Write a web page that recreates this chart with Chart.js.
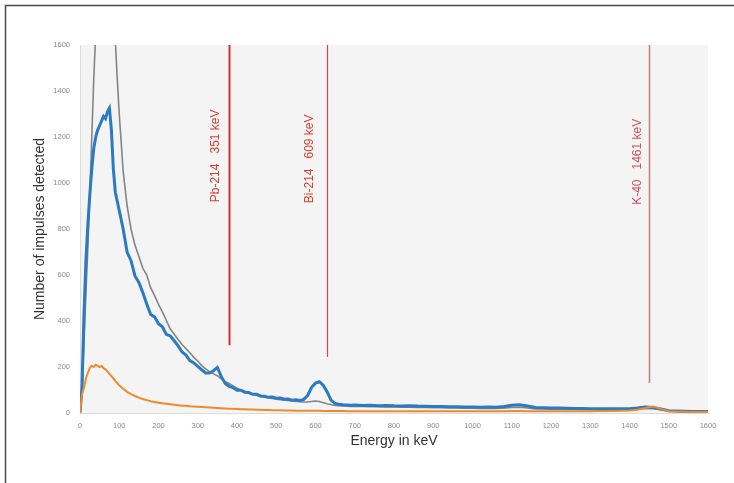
<!DOCTYPE html>
<html>
<head>
<meta charset="utf-8">
<script src="https://cdn.jsdelivr.net/npm/chart.js@4/dist/chart.umd.min.js"></script>
<style>
html,body{margin:0;padding:0;background:#fff;}
#c{display:block;}
</style>
</head>
<body>
<canvas id="c" width="734" height="483"></canvas>
<script>
// ---- data ----
const energy = [
  0,5,10,15,20,25,30,35,40,45,50,55,60,65,70,75,80,85,90,95,100,
  110,120,130,140,150,160,170,180,190,200,
  210,220,230,240,250,260,270,280,290,300,
  310,320,330,340,350,360,370,380,390,400,
  410,420,430,440,450,460,470,480,490,500,
  510,520,530,540,550,560,570,580,590,600,
  610,620,630,640,650,660,670,680,690,700,
  720,740,760,780,800,820,840,860,880,900,
  920,940,960,980,1000,1020,1040,1060,1080,1100,
  1120,1140,1160,1180,1200,1220,1240,1260,1280,1300,
  1320,1340,1360,1380,1400,1420,1440,1460,1480,1500,
  1520,1540,1560,1580,1600
];
const seriesBlue = [
  0,110,420,660,820,950,1060,1150,1200,1230,1250,1270,1290,1280,1310,1325,1230,1060,960,920,880,
  800,700,662,596,568,524,474,428,418,388,
  375,342,335,314,292,265,252,228,218,203,
  188,174,174,184,198,158,128,116,110,99,
  99,90,89,81,81,74,73,68,69,64,
  65,60,61,56,58,54,59,76,112,130,
  136,120,90,55,42,38,36,35,34,35,
  33,34,32,33,31,30,32,30,29,28,
  28,27,27,26,26,25,26,25,28,34,
  36,30,24,23,22,22,21,20,20,19,
  19,18,18,18,19,22,26,24,17,10,
  9,8,7,6,6
];
const seriesGray = [
  0,80,300,520,720,950,1200,1450,1650,1900,2100,2250,2300,2250,2100,1950,1800,1700,1620,1450,1300,
  1050,900,800,730,680,630,600,545,510,472,
  440,402,365,342,320,298,280,262,242,226,
  206,192,180,170,162,148,136,128,118,108,
  100,95,90,83,77,72,69,66,63,60,
  58,56,54,52,50,49,48,48,50,52,
  50,45,40,36,33,32,31,30,29,28,
  28,27,27,26,26,25,25,24,24,23,
  23,22,22,21,21,20,20,20,21,24,
  25,22,18,18,17,17,16,16,15,15,
  15,14,14,14,14,16,20,19,14,10,
  9,8,7,6,6
];
const seriesOrange = [
  0,80,110,150,175,195,205,200,210,205,200,205,195,190,180,170,160,150,140,130,120,
  105,92,82,74,67,61,56,51,48,45,
  42,40,38,36,34,32,31,29,28,27,
  26,25,24,23,22,21,20,19,18,17,
  16,16,15,15,14,14,13,13,12,12,
  12,11,11,11,10,10,10,10,10,10,
  10,9,9,9,9,9,9,8,8,8,
  8,8,8,8,8,8,8,8,8,8,
  8,8,8,8,8,8,8,8,8,9,
  9,8,8,8,8,8,8,8,8,8,
  9,9,9,10,11,14,22,28,18,8,
  6,5,4,4,4
];
const xTicks = [0,100,200,300,400,500,600,700,800,900,1000,1100,1200,1300,1400,1500,1600];
const yTicks = [0,200,400,600,800,1000,1200,1400,1600];
const markerEnergy = [380, 629, 1450];
const markerLineEnd = [295, 243, 130];
const markerLabels = ['Pb-214   351 keV', 'Bi-214   609 keV', 'K-40   1461 keV'];

const pts = arr => energy.map((e, i) => ({x: e, y: arr[i]}));

const decor = {
  id: 'decor',
  beforeDraw(chart) {
    const {ctx, chartArea: a} = chart;
    ctx.save();
    ctx.fillStyle = '#ffffff';
    ctx.fillRect(0, 0, chart.width, chart.height);
    ctx.fillStyle = '#f4f4f4';
    ctx.fillRect(a.left, a.top, a.right - a.left, a.bottom - a.top);
    ctx.strokeStyle = '#4a4a4a';
    ctx.lineWidth = 1.5;
    ctx.beginPath();
    ctx.moveTo(5.5, chart.height);
    ctx.lineTo(5.5, 5.5);
    ctx.lineTo(chart.width, 5.5);
    ctx.stroke();
    ctx.restore();
  }
};

const markers = {
  id: 'markers',
  afterDatasetsDraw(chart, args, opts) {
    const {ctx, chartArea: a, scales: {x, y}} = chart;
    ctx.save();
    markerEnergy.forEach((e, i) => {
      const px = Math.round(x.getPixelForValue(e)) + 0.5;
      ctx.strokeStyle = opts.lineColors[i];
      ctx.lineWidth = opts.lineWidths[i];
      ctx.beginPath();
      ctx.moveTo(px, a.top);
      ctx.lineTo(px, y.getPixelForValue(markerLineEnd[i]));
      ctx.stroke();
      ctx.save();
      ctx.translate(px + opts.labelDx[i], y.getPixelForValue(opts.labelCenter[i]));
      ctx.rotate(-Math.PI / 2);
      ctx.fillStyle = opts.textColors[i];
      ctx.font = '12px "Liberation Sans", Arial, sans-serif';
      ctx.textAlign = 'center';
      ctx.textBaseline = 'middle';
      ctx.fillText(markerLabels[i], 0, 0);
      ctx.restore();
    });
    ctx.restore();
  }
};

const plain = v => String(v);

new Chart(document.getElementById('c'), {
  type: 'line',
  data: {
    datasets: [
      {label: 'Background', data: pts(seriesOrange), borderColor: '#ee8a2c', borderWidth: 2, order: 0},
      {label: 'Sample', data: pts(seriesBlue), borderColor: '#2a7bc2', borderWidth: 3, order: 1},
      {label: 'Total', data: pts(seriesGray), borderColor: '#858585', borderWidth: 1.6, order: 2}
    ]
  },
  options: {
    responsive: false,
    animation: false,
    events: [],
    layout: {padding: {left: 0, top: 45, right: 26, bottom: 0}},
    elements: {point: {radius: 0}, line: {tension: 0}},
    plugins: {
      legend: {display: false},
      tooltip: {enabled: false},
      markers: {
        lineColors: ['#d8302c', '#d2474a', '#c98088'],
        lineWidths: [2, 1.2, 1.6],
        textColors: ['#d8402f', '#d8402f', '#d24f55'],
        labelDx: [-14, -18, -12],
        labelCenter: [1118, 1105, 1092]
      }
    },
    scales: {
      x: {
        type: 'linear', min: 0, max: 1600,
        afterBuildTicks: s => { s.ticks = xTicks.map(v => ({value: v})); },
        afterFit: s => { s.height = 70; },
        grid: {display: false, drawTicks: false},
        border: {display: true, color: '#dcdcdc'},
        ticks: {color: '#8a8a8a', font: {size: 7.5, family: 'Liberation Sans'}, padding: 8, maxRotation: 0, autoSkip: false, callback: plain},
        title: {display: true, text: 'Energy in keV', color: '#333', font: {size: 14, family: 'Liberation Sans'}, padding: {top: 0, bottom: 33}}
      },
      y: {
        type: 'linear', min: 0, max: 1600,
        afterBuildTicks: s => { s.ticks = yTicks.map(v => ({value: v})); },
        afterFit: s => { s.width = 80; },
        grid: {display: false, drawTicks: false},
        border: {display: true, color: '#dcdcdc'},
        ticks: {color: '#8a8a8a', font: {size: 7.5, family: 'Liberation Sans'}, padding: 10, callback: plain},
        title: {display: true, text: 'Number of impulses detected', color: '#333', font: {size: 14, family: 'Liberation Sans'}, padding: {top: 32, bottom: 0}}
      }
    }
  },
  plugins: [decor, markers]
});
</script>
</body>
</html>
